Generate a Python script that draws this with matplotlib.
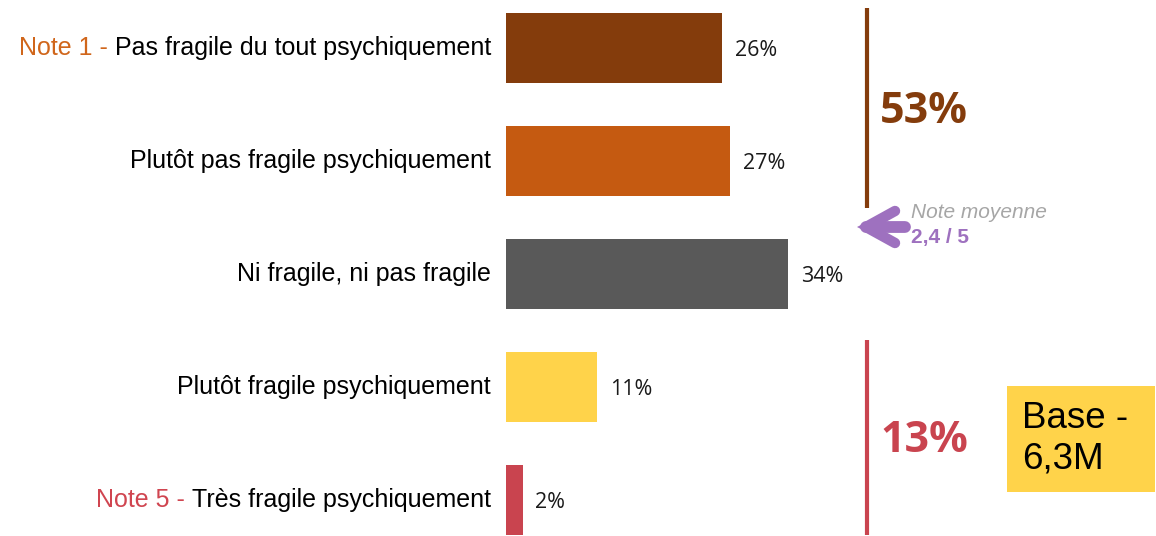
import matplotlib
matplotlib.use("Agg")
import matplotlib.pyplot as plt
from matplotlib.patches import Rectangle, Polygon

categories = ["Pas fragile du tout psychiquement", "Plutôt pas fragile psychiquement",
              "Ni fragile, ni pas fragile", "Plutôt fragile psychiquement",
              "Très fragile psychiquement"]
prefixes = ["Note 1 - ", "", "", "", "Note 5 - "]
values = [26, 27, 34, 11, 2]
colors = ["#843C0C", "#C55A11", "#595959", "#FFD34A", "#C9444F"]
prefix_colors = ["#D0661B", None, None, None, "#D04550"]
group_labels = ["53%", "13%"]
group_colors = ["#843C0C", "#C9444F"]
note_title = "Note moyenne"
note_value = "2,4 / 5"
base_text = "Base -\n6,3M"

W, H = 1156, 536
fig = plt.figure(figsize=(W / 100, H / 100), dpi=100)
ax = fig.add_axes([0, 0, 1, 1])
pxp = 8.3  # pixels per percent
x0 = 506
ax.set_xlim(-x0 / pxp, (W - x0) / pxp)
ax.set_ylim((H - 48) / 113, -48 / 113)
ax.axis("off")

ypos = list(range(len(values)))
ax.barh(ypos, values, height=0.62, color=colors)

for y, v in zip(ypos, values):
    ax.text(v + 1.55, y + 0.025, f"{v}%", va="center", ha="left", fontsize=15.5,
            family="Open Sans", color="#1a1a1a")

label_texts = []
for y, c, p, pc in zip(ypos, categories, prefixes, prefix_colors):
    t = ax.text(-1.8, y, c, va="center", ha="right", fontsize=18,
                family="Liberation Sans", color="black")
    label_texts.append((t, p, pc))

fig.canvas.draw()
r = fig.canvas.get_renderer()
for t, p, pc in label_texts:
    if p:
        bb = t.get_window_extent(r)
        xd = ax.transData.inverted().transform((bb.x0, 0))[0]
        ax.text(xd, t.get_position()[1], p, va="center", ha="right", fontsize=18,
                family="Liberation Sans", color=pc)

def px(x):
    return (x - x0) / pxp
def py(y):
    return (y - 48) / 113

ax.plot([px(867), px(867)], [py(8), py(208)], color=group_colors[0], lw=3, solid_capstyle="butt")
ax.plot([px(867), px(867)], [py(340), py(535)], color=group_colors[1], lw=3, solid_capstyle="butt")
ax.text(px(880), py(112), group_labels[0], fontsize=31, fontweight="bold", family="Open Sans",
        color=group_colors[0], va="center", ha="left")
ax.text(px(880), py(440), group_labels[1], fontsize=31, fontweight="bold", family="Open Sans",
        color=group_colors[1], va="center", ha="left")

# arrow (chevron + shaft)
purple = "#9E71BF"
ax.plot([px(895), px(866), px(895)], [py(211), py(227), py(243)], color=purple, lw=7.5,
        solid_capstyle="round", solid_joinstyle="round")
ax.plot([px(866), px(905)], [py(227), py(227)], color=purple, lw=8.5, solid_capstyle="round")
ax.add_patch(Polygon([(px(857), py(227)), (px(882), py(214)), (px(882), py(240))],
                     closed=True, facecolor=purple, edgecolor="none"))
ax.text(px(911), py(212), note_title, fontsize=15, style="italic", family="Liberation Sans",
        color="#A6A6A6", va="center", ha="left")
ax.text(px(911), py(238), note_value, fontsize=15, fontweight="bold", family="Liberation Sans",
        color=purple, va="center", ha="left")

fig.patches.append(Rectangle((1007 / W, 1 - 492 / H), 148 / W, 106 / H,
                             transform=fig.transFigure, facecolor="#FFD34A", edgecolor="none"))
fig.text(1022 / W, 1 - 439 / H, base_text, fontsize=26.5, family="Liberation Sans",
         color="black", va="center", ha="left", linespacing=1.2)

fig.savefig("out.png", dpi=100)
